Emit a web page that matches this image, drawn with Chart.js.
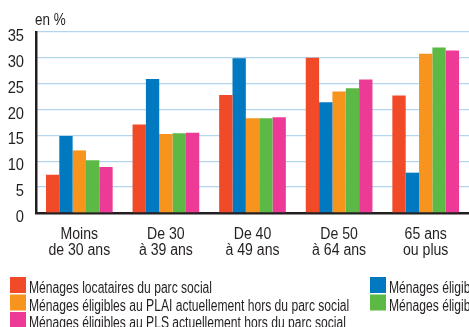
<!DOCTYPE html>
<html>
<head>
<meta charset="utf-8">
<script src="https://cdn.jsdelivr.net/npm/chart.js@4.4.1/dist/chart.umd.min.js"></script>
<style>
  html, body { margin: 0; padding: 0; background: #fff; }
  #wrap { width: 469px; height: 327px; position: relative; }
</style>
</head>
<body>
<div id="wrap"><canvas id="ages" width="469" height="327"></canvas></div>
<script>
// age groups and shares (en %)
const ageGroups = [['Moins', 'de 30 ans'], ['De 30', 'à 39 ans'], ['De 40', 'à 49 ans'], ['De 50', 'à 64 ans'], ['65 ans', 'ou plus']];
const yTicks = [0, 5, 10, 15, 20, 25, 30, 35];

const locataires = [7.4, 17.1, 22.8, 30.0, 22.7];
const eligiblesTous = [14.9, 25.9, 29.9, 21.4, 7.8];
const eligiblesPLAI = [12.1, 15.3, 18.3, 23.5, 30.8];
const eligiblesPLUS = [10.2, 15.4, 18.3, 24.1, 32.0];
const eligiblesPLS = [8.9, 15.5, 18.5, 25.8, 31.4];

const FONT = '"Liberation Sans", Arial, sans-serif';
const INK = '#231f20';
const NARROW = 0.88; // no condensed face installed, squeeze text horizontally

const series = [
  { label: 'Ménages locataires du parc social', data: locataires, color: '#f04a28', col: 0, row: 0 },
  { label: 'Ménages éligibles actuellement hors du parc social', data: eligiblesTous, color: '#0079c1', col: 1, row: 0 },
  { label: 'Ménages éligibles au PLAI actuellement hors du parc social', data: eligiblesPLAI, color: '#f7941d', col: 0, row: 1 },
  { label: 'Ménages éligibles au PLUS actuellement hors du parc social', data: eligiblesPLUS, color: '#5db946', col: 1, row: 1 },
  { label: 'Ménages éligibles au PLS actuellement hors du parc social', data: eligiblesPLS, color: '#ec3a96', col: 0, row: 2 }
];

function squeezed(c, text, x, y, align, sx) {
  const w = c.measureText(text).width * sx;
  let left = x;
  if (align === 'center') left = x - w / 2;
  if (align === 'right') left = x - w;
  c.save();
  c.translate(left, y);
  c.scale(sx, 1);
  c.textAlign = 'left';
  c.fillText(text, 0, 0);
  c.restore();
}

// tick labels, unit label and two-column legend
const extras = {
  id: 'extras',
  afterDraw(chart) {
    const c = chart.ctx;
    const xs = chart.scales.x;
    const ys = chart.scales.y;
    c.save();
    c.fillStyle = INK;
    c.textBaseline = 'alphabetic';

    c.font = '16px ' + FONT;
    squeezed(c, 'en %', xs.left - 1, 25, 'left', 0.84);

    yTicks.forEach(v => {
      squeezed(c, String(v), 24, ys.getPixelForValue(v) + 9, 'right', 0.92);
    });

    chart.data.labels.forEach((lines, i) => {
      const cx = xs.getPixelForTick(i);
      lines.forEach((line, j) => {
        squeezed(c, line, cx, 238.5 + j * 16, 'center', NARROW);
      });
    });

    const colX = [10, 370];
    c.font = '16px ' + FONT;
    const legendScale = 183 / c.measureText(series[0].label).width;
    chart.data.datasets.forEach((ds, i) => {
      const s = series[i];
      const x = colX[s.col];
      const y = 277 + s.row * 17.5;
      c.fillStyle = ds.backgroundColor;
      c.fillRect(x, y, 16, 16);
      c.fillStyle = INK;
      squeezed(c, ds.label, x + 19, y + 16, 'left', legendScale);
    });
    c.restore();
  }
};

new Chart(document.getElementById('ages'), {
  type: 'bar',
  data: {
    labels: ageGroups,
    datasets: series.map(s => ({
      label: s.label,
      data: s.data,
      backgroundColor: s.color,
      borderWidth: 0,
      barPercentage: 1,
      categoryPercentage: 0.77
    }))
  },
  options: {
    responsive: false,
    animation: false,
    devicePixelRatio: 1,
    layout: { padding: { top: 32, right: 0, bottom: 0, left: 0 } },
    plugins: { legend: { display: false }, tooltip: { enabled: false } },
    scales: {
      x: {
        grid: { display: false },
        border: { display: true, color: INK, width: 2.5 },
        ticks: { display: false },
        afterFit(scale) { scale.height = 114; }
      },
      y: {
        min: 0,
        max: 35,
        afterBuildTicks(scale) { scale.ticks = yTicks.map(v => ({ value: v })); },
        grid: { color: '#b3d5ee', lineWidth: 1.3, drawTicks: false },
        border: { display: true, color: INK, width: 2.5 },
        ticks: { display: false },
        afterFit(scale) { scale.width = 36; }
      }
    }
  },
  plugins: [extras]
});
</script>
</body>
</html>
